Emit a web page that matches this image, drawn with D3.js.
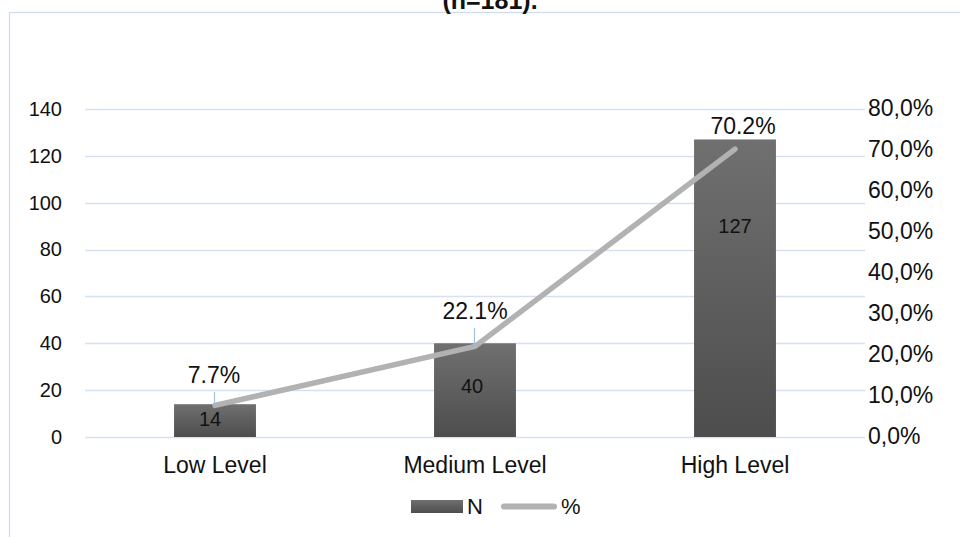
<!DOCTYPE html>
<html>
<head>
<meta charset="utf-8">
<script src="https://cdn.jsdelivr.net/npm/d3@7/dist/d3.min.js"></script>
<style>
  html, body { margin: 0; padding: 0; background: #fff; }
  svg { display: block; font-family: "Liberation Sans", Arial, sans-serif; }
</style>
</head>
<body>
<svg id="chart" width="960" height="537"></svg>
<script>
// Knowledge level counts (bars, left axis) and shares (line, right axis)
const categories = ["Low Level", "Medium Level", "High Level"];
const counts = [14, 40, 127];
const percents = [7.7, 22.1, 70.2];
const leftTicks = [0, 20, 40, 60, 80, 100, 120, 140];
const rightTicks = [0, 10, 20, 30, 40, 50, 60, 70, 80];
const legendLabels = ["N", "%"];

const svg = d3.select("#chart");
const W = 960, H = 537;
const plot = { left: 85, right: 865, top: 109, bottom: 437 };
const FONT = "Liberation Sans, Arial, sans-serif";

// Chart area frame
svg.append("rect")
  .attr("x", 9.5).attr("y", 12.5)
  .attr("width", W + 10).attr("height", H + 10)
  .attr("fill", "#fff").attr("stroke", "#cfdcee").attr("stroke-width", 1.3);

// Title (runs above the frame)
svg.append("text")
  .attr("x", 490).attr("y", 9)
  .attr("text-anchor", "middle")
  .attr("font-weight", "bold").attr("font-size", 25)
  .attr("fill", "#111")
  .text("(n=181).");

const x = d3.scaleBand().domain(categories).range([plot.left, plot.right])
  .paddingInner(0.685).paddingOuter(0.3425);
const yL = d3.scaleLinear().domain([0, 140]).range([plot.bottom, plot.top]);
const yR = d3.scaleLinear().domain([0, 80]).range([plot.bottom, plot.top]);
const cx = d => x(d) + x.bandwidth() / 2;

// Gridlines
svg.append("g").selectAll("line").data(leftTicks).join("line")
  .attr("x1", plot.left).attr("x2", plot.right)
  .attr("y1", d => Math.round(yL(d)) + 0.5).attr("y2", d => Math.round(yL(d)) + 0.5)
  .attr("stroke", "#d5e1f1").attr("stroke-width", 1.3);

// Left axis (counts)
const leftAxis = svg.append("g").attr("transform", `translate(${plot.left},0)`)
  .call(d3.axisLeft(yL).tickValues(leftTicks).tickSize(0).tickPadding(23).tickFormat(d3.format("d")));
leftAxis.select(".domain").remove();
leftAxis.selectAll("text").attr("font-size", 20).attr("fill", "#111").attr("font-family", FONT);

// Right axis (percent)
const rightAxis = svg.append("g").attr("transform", `translate(${plot.right},0)`)
  .call(d3.axisRight(yR).tickValues(rightTicks).tickSize(0).tickPadding(3)
    .tickFormat(d => d3.format(".1f")(d).replace(".", ",") + "%"));
rightAxis.select(".domain").remove();
rightAxis.selectAll("text").attr("font-size", 23).attr("fill", "#111").attr("font-family", FONT)
  .attr("dy", "0.28em");

// Category axis labels
svg.append("g").selectAll("text").data(categories).join("text")
  .attr("x", d => cx(d))
  .attr("y", 473)
  .attr("text-anchor", "middle").attr("font-size", 23).attr("fill", "#111")
  .text(d => d);

// Bar gradient
const defs = svg.append("defs");
const grad = defs.append("linearGradient").attr("id", "barGrad")
  .attr("x1", 0).attr("y1", 0).attr("x2", 0).attr("y2", 1);
grad.append("stop").attr("offset", "0%").attr("stop-color", "#707070");
grad.append("stop").attr("offset", "100%").attr("stop-color", "#4d4d4d");

// Bars
svg.append("g").selectAll("rect").data(categories).join("rect")
  .attr("x", d => x(d))
  .attr("y", (d, i) => yL(counts[i]))
  .attr("width", x.bandwidth())
  .attr("height", (d, i) => yL(0) - yL(counts[i]))
  .attr("fill", "url(#barGrad)");

// Count labels inside bars (the tallest one sits higher up in its bar)
const countLabelShift = [[-5, -2], [-3, -4], [0, -62]];
svg.append("g").selectAll("text").data(categories).join("text")
  .attr("x", (d, i) => cx(d) + countLabelShift[i][0])
  .attr("y", (d, i) => (yL(counts[i]) + yL(0)) / 2 + 7 + countLabelShift[i][1])
  .attr("text-anchor", "middle").attr("font-size", 20).attr("fill", "#111")
  .text((d, i) => counts[i]);

// Percentage line
const line = d3.line().x(d => cx(d)).y((d, i) => yR(percents[i]));
svg.append("path")
  .datum(categories)
  .attr("d", line)
  .attr("fill", "none").attr("stroke", "#b2b2b2").attr("stroke-width", 5.5)
  .attr("stroke-linecap", "round").attr("stroke-linejoin", "round");

// Percentage labels with leader lines
const pctLabelPos = [[-1, 383], [0, 319], [8, 134]];
const leaderShow = [true, true, false];
svg.append("g").selectAll("line").data(categories.filter((d, i) => leaderShow[i])).join("line")
  .attr("x1", d => cx(d) - 0.5).attr("x2", d => cx(d) - 0.5)
  .attr("y1", d => pctLabelPos[categories.indexOf(d)][1] + 9)
  .attr("y2", d => yR(percents[categories.indexOf(d)]) - 1)
  .attr("stroke", "#9dc3e6").attr("stroke-width", 1.2);
svg.append("g").selectAll("text").data(categories).join("text")
  .attr("x", (d, i) => cx(d) + pctLabelPos[i][0])
  .attr("y", (d, i) => pctLabelPos[i][1])
  .attr("text-anchor", "middle").attr("font-size", 23).attr("fill", "#111")
  .text((d, i) => d3.format(".1f")(percents[i]) + "%");

// Legend
const lg = svg.append("g");
lg.append("rect").attr("x", 411).attr("y", 500).attr("width", 52).attr("height", 13).attr("fill", "url(#barGrad)");
lg.append("text").attr("x", 467).attr("y", 514).attr("font-size", 22).attr("fill", "#111").text(legendLabels[0]);
lg.append("line").attr("x1", 504).attr("x2", 554).attr("y1", 506.5).attr("y2", 506.5)
  .attr("stroke", "#b2b2b2").attr("stroke-width", 6).attr("stroke-linecap", "round");
lg.append("text").attr("x", 561).attr("y", 514).attr("font-size", 22).attr("fill", "#111").text(legendLabels[1]);
</script>
</body>
</html>
